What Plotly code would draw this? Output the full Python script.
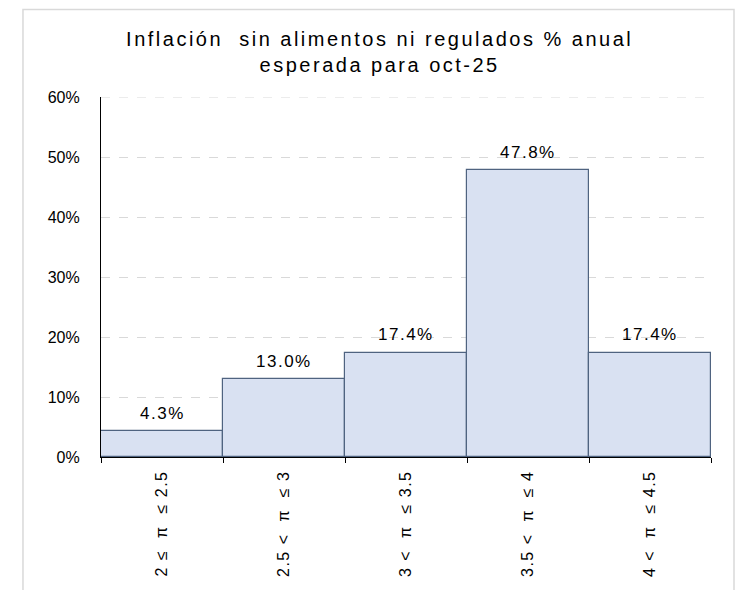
import plotly.graph_objects as go

NB = "\u00a0"
rangos = [
    f"2 ≤{NB*2}π{NB*2}≤ 2.5",
    f"2.5 <{NB*2}π{NB*2}≤ 3",
    f"3 <{NB*2}π{NB*2}≤ 3.5",
    f"3.5 <{NB*2}π{NB*2}≤ 4",
    f"4 <{NB*2}π{NB*2}≤ 4.5",
]
porcentajes = [4.3, 13.0, 17.4, 47.8, 17.4]
titulo = ["Inflación  sin alimentos ni regulados % anual", "esperada para oct-25"]

# the reference text looks horizontally stretched, so widen it a bit
def ancho(s, px):
    return f"<span style='letter-spacing:{px}px'>{s}</span>"

fig = go.Figure(go.Bar(
    x=rangos,
    y=porcentajes,
    marker=dict(color="#D9E1F2", line=dict(color="#4F6380", width=1.2)),
    hoverinfo="x+y",
))

# value labels above the bars
for cat, val in zip(rangos, porcentajes):
    fig.add_annotation(x=cat, y=val, text=ancho(f"{val:.1f}%", 1.5),
                       showarrow=False, yanchor="middle", yshift=18,
                       font=dict(size=17, color="#000000"))

# page is shown with an 8px body margin, so the figure is 736x582
fig.update_layout(
    width=736, height=582,
    paper_bgcolor="white", plot_bgcolor="white",
    font=dict(family="Liberation Sans, Arial, sans-serif", color="#000000"),
    margin=dict(l=93, r=33, t=89, b=133, autoexpand=False),
    bargap=0,
    showlegend=False,
    title=dict(text="<br>".join(ancho(t, 2.5) for t in titulo),
               x=0.505, xanchor="center", y=0.935, yanchor="top",
               font=dict(size=20, color="#000000")),
    shapes=[
        dict(type="rect", xref="paper", yref="paper",
             x0=-0.1279, x1=1.0377, y0=-0.5, y1=1.243,
             line=dict(color="#D9D9D9", width=1.5), layer="below"),
        # top gridline (60%) that plotly drops at the edge of the range
        dict(type="line", xref="paper", yref="y", x0=0, x1=1, y0=60, y1=60,
             line=dict(color="#D9D9D9", width=1, dash="dash"), layer="below"),
    ],
)
fig.update_xaxes(
    type="category", range=[-0.5, 4.5], automargin=False,
    showline=True, linecolor="#000000", linewidth=1.2,
    ticks="outside", tickson="boundaries", ticklen=5, tickcolor="#000000",
    tickangle=-90, tickfont=dict(size=16), showgrid=False,
    ticklabelstandoff=6,
    tickvals=rangos, ticktext=[ancho(r, 1.5) for r in rangos],
)
fig.update_yaxes(
    range=[0, 60], dtick=10, ticksuffix="%", automargin=False,
    showline=True, linecolor="#000000", linewidth=1.2,
    showgrid=True, gridcolor="#D9D9D9", griddash="dash", gridwidth=1,
    tickfont=dict(size=16), zeroline=False, ticks="",
    ticklabelstandoff=17,
)

fig.write_html("out.html")
